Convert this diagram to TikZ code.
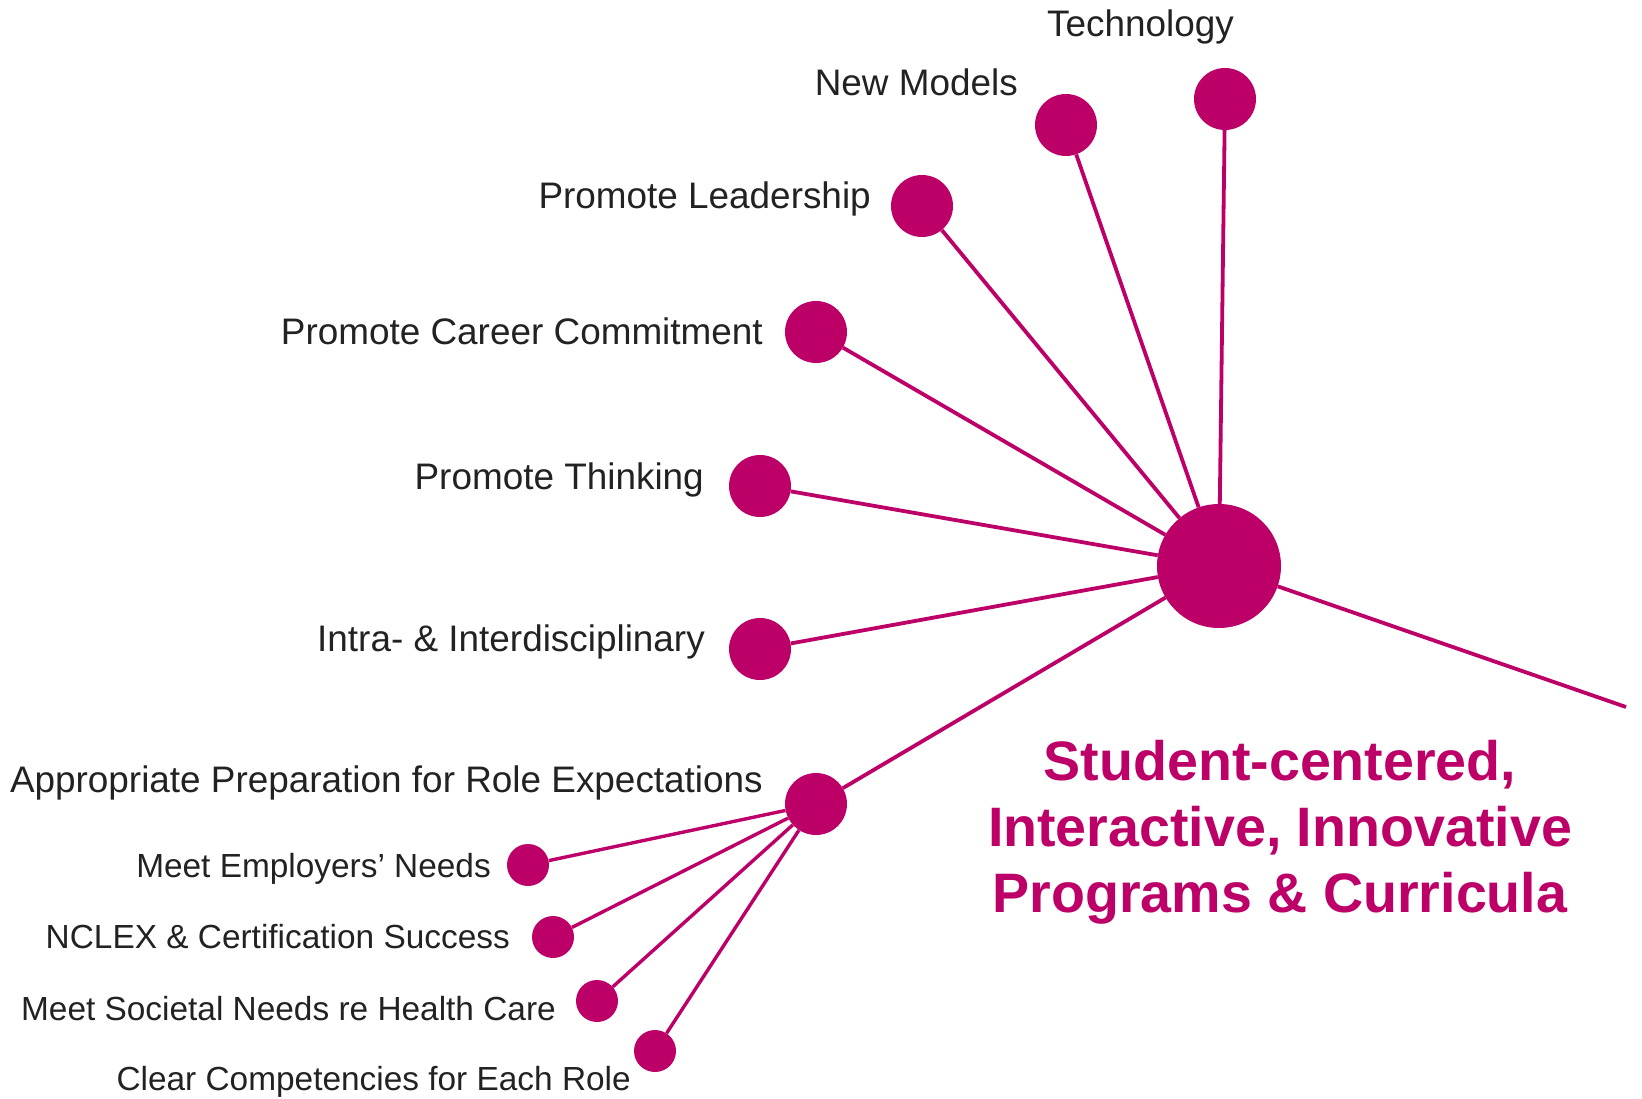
\documentclass[tikz,border=0pt]{standalone}
\usepackage{fontspec}
\setmainfont{Liberation Sans}
\definecolor{mag}{HTML}{BC0068}
\definecolor{txt}{HTML}{222222}
\begin{document}
\begin{tikzpicture}[x=1pt,y=-1pt,
  dot/.style={circle,fill=mag,inner sep=0pt,minimum size=62pt},
  hubdot/.style={circle,fill=mag,inner sep=0pt,minimum size=124pt},
  subdot/.style={circle,fill=mag,inner sep=0pt,minimum size=42pt},
  link/.style={draw=mag,line width=3.8pt},
  lab/.style={anchor=base east,inner sep=0pt,text=txt,font=\fontsize{36.9}{44}\selectfont},
  sublab/.style={anchor=base east,inner sep=0pt,text=txt,font=\fontsize{33.4}{40}\selectfont},
  title/.style={align=center,inner sep=0pt,text=mag,font=\fontsize{55.6}{66}\selectfont\bfseries}]
\useasboundingbox (0,0) rectangle (1642,1099);
% nodes
\node[hubdot] (hub) at (1219,566) {};
\node[dot] (tech) at (1225,99) {};
\node[dot] (newm) at (1066,125) {};
\node[dot] (lead) at (922,206) {};
\node[dot] (career) at (816,332) {};
\node[dot] (think) at (760,486) {};
\node[dot] (intra) at (760,649) {};
\node[dot] (prep) at (816,804) {};
\node[subdot] (emp) at (528,865) {};
\node[subdot] (nclex) at (553,937) {};
\node[subdot] (soc) at (597,1001) {};
\node[subdot] (comp) at (655,1051) {};
\coordinate (rightend) at (1626,707);
% connectors
\draw[link] (tech) -- (hub);
\draw[link] (newm) -- (hub);
\draw[link] (lead) -- (hub);
\draw[link] (career) -- (hub);
\draw[link] (think) -- (hub);
\draw[link] (intra) -- (hub);
\draw[link] (prep) -- (hub);
\draw[link] (hub) -- (rightend);
\draw[link,line width=3.4pt] (emp) -- (prep);
\draw[link,line width=3.4pt] (nclex) -- (prep);
\draw[link,line width=3.4pt] (soc) -- (prep);
\draw[link,line width=3.4pt] (comp) -- (prep);
% labels
\node[lab] (ltech) at (1234,37) {Technology};
\node[lab] (lnewm) at (1018,96) {New Models};
\node[lab] (llead) at (871,209) {Promote Leadership};
\node[lab] (lcareer) at (763,345) {Promote Career Commitment};
\node[lab] (lthink) at (704,489) {Promote Thinking};
\node[lab] (lintra) at (705,651) {Intra- \& Interdisciplinary};
\node[lab] (lprep) at (763,792) {Appropriate Preparation for Role Expectations};
\node[sublab] (lemp) at (491,877) {Meet Employers’ Needs};
\node[sublab] (lnclex) at (510,948) {NCLEX \& Certification Success};
\node[sublab] (lsoc) at (556,1020) {Meet Societal Needs re Health Care};
\node[sublab] (lcomp) at (631,1090) {Clear Competencies for Each Role};
\node[title] (ttl) at (1280,832) {Student-centered,\\Interactive, Innovative\\Programs \& Curricula};
\end{tikzpicture}
\end{document}
